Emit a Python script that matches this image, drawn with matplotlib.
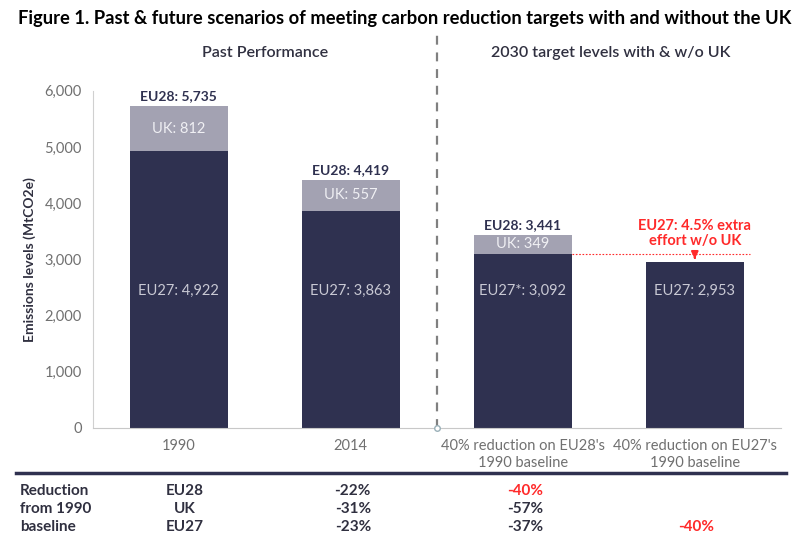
import matplotlib.pyplot as plt
import numpy as np

# 데이터
categories = ["1990", "2014", "40% reduction on EU28's\n1990 baseline", "40% reduction on EU27's\n1990 baseline"]
eu27 = [4922, 3863, 3092, 2953]
uk = [812, 557, 349, 0]
eu28 = [5735, 4419, 3441, None]
eu27_names = ["EU27", "EU27", "EU27*", "EU27"]

row_names = ["EU28", "UK", "EU27"]
reduction_2014 = ["-22%", "-31%", "-23%"]
reduction_eu28_target = ["-40%", "-57%", "-37%"]
reduction_eu27_target = ["", "", "-40%"]

navy = "#2f3150"
grey = "#a3a2b2"
red = "#ff2a2a"

plt.rcParams['font.family'] = ['Lato', 'DejaVu Sans']

fig = plt.figure(figsize=(8, 5.5), dpi=100)
ax = fig.add_axes([0.116, 0.222, 0.86, 0.613])

x = np.arange(len(categories))
w = 0.57
ax.bar(x, eu27, width=w, color=navy)
ax.bar(x, uk, width=w, bottom=eu27, color=grey)

for i in range(len(x)):
    ax.text(x[i], 2430, f"{eu27_names[i]}: {eu27[i]:,}", ha='center', va='center',
            color='#c9c9d4', fontsize=10.5)
    if uk[i] > 0:
        ax.text(x[i], eu27[i] + uk[i] / 2, f"UK: {uk[i]:,}", ha='center', va='center',
                color='#f0f0f4', fontsize=10.5)
    if eu28[i]:
        ax.text(x[i], eu28[i] + 60, f"EU28: {eu28[i]:,}", ha='center', va='bottom',
                color=navy, fontsize=10, fontweight='bold')

# 빨간 점선과 화살표
ax.plot([x[2] + w / 2, x[3] + 0.32], [eu27[2], eu27[2]], color=red, ls=(0, (1.5, 1.5)), lw=0.8)
ax.annotate("", xy=(x[3], eu27[3] + 5), xytext=(x[3], eu27[2] - 10),
            arrowprops=dict(arrowstyle='-|>', color=red, lw=1.5, mutation_scale=10))
ax.text(x[3], eu27[2] + 110, "EU27: 4.5% extra\neffort w/o UK", ha='center', va='bottom',
        color=red, fontsize=10.5, fontweight='bold', linespacing=1.1)

ax.set_xlim(-0.5, 3.5)
ax.set_ylim(0, 6000)
ax.set_yticks(np.arange(0, 6001, 1000))
ax.set_yticklabels([f"{v:,}" for v in range(0, 6001, 1000)], color='#707070', fontsize=10.5)
ax.set_xticks(x)
ax.set_xticklabels(categories, color='#707070', fontsize=10.5, linespacing=1.3)
ax.tick_params(length=0, pad=8)
ax.set_ylabel("Emissions levels (MtCO2e)", fontsize=10, fontweight='bold', color='#303040', labelpad=6)
for s in ['top', 'right']:
    ax.spines[s].set_visible(False)
ax.spines['left'].set_color('#d0d0d0')
ax.spines['bottom'].set_color('#c8c8c8')

# 구분선
ax.plot([1.5, 1.5], [0, 7050], color='#808080', ls=(0, (4, 3.5)), lw=1.6, clip_on=False)
ax.plot(1.5, 0, 'o', ms=4, mfc='white', mec='#9ab0b8', clip_on=False, zorder=5)

fig.text(0.022, 0.967, "Figure 1. Past & future scenarios of meeting carbon reduction targets with and without the UK",
         fontsize=13.2, fontweight='bold', color='black', va='center')
fig.text(0.331, 0.903, "Past Performance", ha='center', va='center', fontsize=11.5, color='#303040', fontweight='semibold')
fig.text(0.763, 0.903, "2030 target levels with & w/o UK", ha='center', va='center', fontsize=11.5, color='#303040', fontweight='semibold')

# 표
fig.add_artist(plt.Line2D([0.02, 0.982], [0.14, 0.14], color=navy, lw=2.5))
row_y = [0.107, 0.075, 0.042]
for j, lab in enumerate(["Reduction", "from 1990", "baseline"]):
    fig.text(0.025, row_y[j], lab, fontsize=11, fontweight='bold', color='#303040', va='center')
for j in range(3):
    fig.text(0.231, row_y[j], row_names[j], fontsize=11, fontweight='bold', color='#303040', va='center', ha='center')
    fig.text(0.441, row_y[j], reduction_2014[j], fontsize=11, fontweight='bold', color='#303040', va='center', ha='center')
    fig.text(0.656, row_y[j], reduction_eu28_target[j], fontsize=11, fontweight='bold',
             color=red if reduction_eu28_target[j] == "-40%" else '#303040', va='center', ha='center')
    fig.text(0.87, row_y[j], reduction_eu27_target[j], fontsize=11, fontweight='bold', color=red, va='center', ha='center')

fig.savefig("out.png", dpi=100)
